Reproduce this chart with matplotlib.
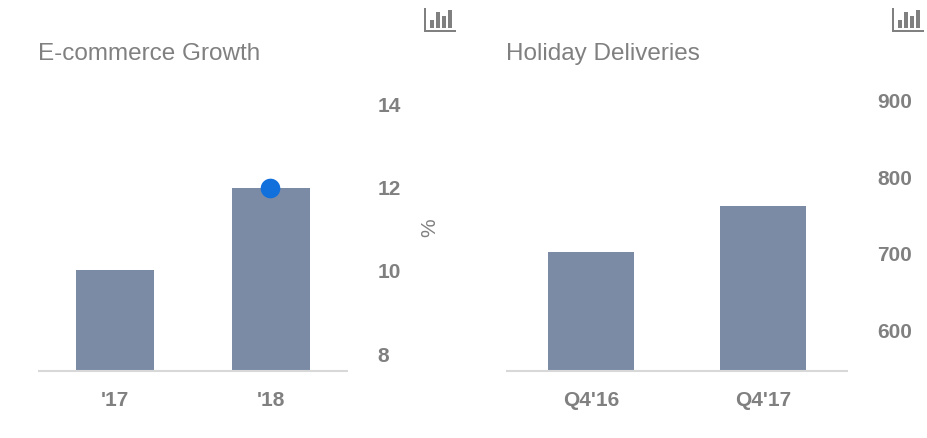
import matplotlib
matplotlib.use('Agg')
import matplotlib.pyplot as plt
from matplotlib.patches import Rectangle
from matplotlib.transforms import ScaledTranslation

plt.rcParams['font.family'] = ['Liberation Sans', 'DejaVu Sans']

W, H = 928, 438
GRIS = '#808080'
BARRA = '#7b8ba6'

# E-commerce Growth
cat_izq = ["'17", "'18"]
val_izq = [10.05, 12]
ticks_izq = [8, 10, 12, 14]
punto_cat = 0.995
punto_val = 12.02

# Holiday Deliveries
cat_der = ["Q4'16", "Q4'17"]
val_der = [704, 764]
ticks_der = [600, 700, 800, 900]


def crear_ejes(fig, x0, x1, y_arriba, y_abajo):
    return fig.add_axes([x0 / W, 1 - y_abajo / H, (x1 - x0) / W, (y_abajo - y_arriba) / H])


def graficar_barras(fig, ax, categorias, valores, ticks, ylim, pad_y):
    ax.bar(range(len(valores)), valores, width=0.5, color=BARRA)
    ax.set_xlim(-0.494, 1.494)
    ax.set_ylim(ylim)
    ax.set_xticks(range(len(valores)), categorias)
    ax.set_yticks(ticks)
    ax.yaxis.tick_right()
    ax.tick_params(axis='x', length=0, pad=14.5, labelsize=15, labelcolor=GRIS)
    ax.tick_params(axis='y', length=0, pad=pad_y, labelsize=15, labelcolor=GRIS)
    for t in ax.get_xticklabels():
        t.set_fontweight('bold')
    # bajar un pixel las etiquetas del eje y
    abajo = ScaledTranslation(0, -1 / 100, fig.dpi_scale_trans)
    for t in ax.get_yticklabels():
        t.set_fontweight('bold')
        t.set_verticalalignment('center')
        t.set_transform(t.get_transform() + abajo)
    for lado in ['top', 'left', 'right']:
        ax.spines[lado].set_visible(False)
    ax.spines['bottom'].set_color('#d8d8d8')
    ax.spines['bottom'].set_linewidth(1.5)
    ax.spines['bottom'].set_capstyle('butt')


def icono(fig, x):
    # icono de grafica arriba a la derecha, en pixeles
    partes = [(0, 8, 2, 24), (0, 30, 32, 2), (6, 20, 4, 8), (12, 12, 4, 16), (18, 16, 4, 12), (24, 10, 4, 18)]
    for dx, y, w, h in partes:
        fig.add_artist(Rectangle(((x + dx) / W, 1 - (y + h) / H), w / W, h / H,
                                 transform=fig.transFigure, color=GRIS, lw=0))


fig = plt.figure(figsize=(W / 100, H / 100), dpi=100)

ax1 = crear_ejes(fig, 38, 348, 80, 371)
graficar_barras(fig, ax1, cat_izq, val_izq, ticks_izq, (7.62, 14.6), 21.5)
ax1.scatter([punto_cat], [punto_val], s=200, color='#1170dc', linewidths=0, zorder=5, clip_on=False)

ax2 = crear_ejes(fig, 506, 848, 80, 371)
graficar_barras(fig, ax2, cat_der, val_der, ticks_der, (548, 928), 20.8)

fig.text(38 / W, 1 - 54 / H, 'E-commerce Growth', fontsize=17.5, color=GRIS, va='center', ha='left')
fig.text(506 / W, 1 - 54 / H, 'Holiday Deliveries', fontsize=17.5, color=GRIS, va='center', ha='left')
fig.text(430 / W, 1 - 228 / H, '%', fontsize=15, color=GRIS, rotation=90, va='center', ha='center')

icono(fig, 424)
icono(fig, 892)

fig.savefig('out.png', dpi=100)
